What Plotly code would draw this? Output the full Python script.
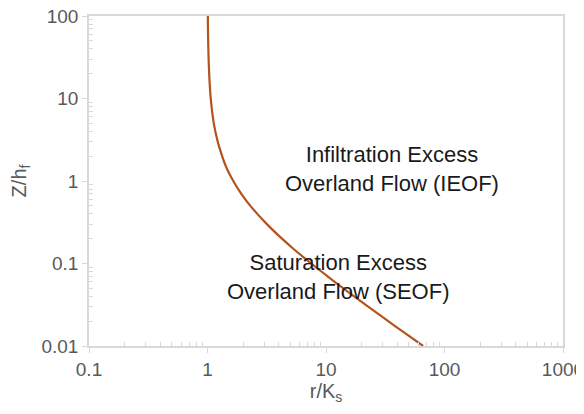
import plotly.graph_objects as go

# Data (r/Ks vs Z/hf)
z_hf = [100, 50, 20, 10, 5, 3, 2, 1.5, 1, 0.7, 0.5, 0.3, 0.2, 0.15, 0.1,
        0.07, 0.05, 0.03, 0.02, 0.015, 0.01]
r_ks = [1.007, 1.013, 1.033, 1.065, 1.13, 1.22, 1.33, 1.43, 1.65, 1.93, 2.3,
        3.17, 4.25, 5.33, 7.5, 10.3, 14.0, 22.7, 33.5, 44.3, 66.0]

x_ticks = [0.1, 1, 10, 100, 1000]
x_tick_labels = ["0.1", "1", "10", "100", "1000"]
y_ticks = [0.01, 0.1, 1, 10, 100]
y_tick_labels = ["0.01", "0.1", "1", "10", "100"]

region_labels = ["Infiltration Excess<br>Overland Flow (IEOF)",
                 "Saturation Excess<br>Overland Flow (SEOF)"]


def minor_vals(decades):
    return [m * d for d in decades[:-1] for m in range(2, 10)]


FONT = "Liberation Sans"
GRAY = "#595959"
AXIS = "#d9d9d9"

fig = go.Figure()
fig.add_trace(go.Scatter(x=r_ks, y=z_hf, mode="lines",
                         line=dict(color="#B4541C", width=2.2, shape="spline"),
                         showlegend=False, hoverinfo="skip"))

axis_common = dict(type="log", showgrid=False, zeroline=False, automargin=False,
                   showline=True, linecolor=AXIS, linewidth=1.5, mirror=True,
                   ticks="outside", ticklen=5, tickcolor=AXIS, tickwidth=1.2,
                   ticklabeloverflow="allow",
                   tickfont=dict(family=FONT, size=19, color=GRAY))

fig.update_xaxes(**axis_common, range=[-1, 3], tickvals=x_ticks, ticktext=x_tick_labels,
                 minor=dict(ticks="inside", ticklen=4, tickcolor=AXIS, tickwidth=1,
                            showgrid=False, tickvals=minor_vals(x_ticks)),
                 title=dict(text="r/K<sub>s</sub>", font=dict(family=FONT, size=20, color=GRAY),
                            standoff=0))
fig.update_yaxes(**axis_common, range=[-2, 2], tickvals=y_ticks, ticktext=y_tick_labels,
                 minor=dict(ticks="inside", ticklen=4, tickcolor=AXIS, tickwidth=1,
                            showgrid=False, tickvals=minor_vals(y_ticks)),
                 title=dict(text="Z/h<sub>f</sub>", font=dict(family=FONT, size=20, color=GRAY),
                            standoff=18))

fig.add_annotation(xref="paper", yref="paper", x=0.64, y=0.537, text=region_labels[0],
                   showarrow=False, font=dict(family=FONT, size=22, color="#1a1a1a"),
                   align="center")
fig.add_annotation(xref="paper", yref="paper", x=0.287, y=0.122, text=region_labels[1],
                   showarrow=False, font=dict(family=FONT, size=22, color="#1a1a1a"),
                   align="center")

# page body adds an 8px offset, so the figure is sized/margined to compensate
fig.update_layout(width=576, height=406,
                  margin=dict(l=81, r=21, t=8, b=68),
                  paper_bgcolor="white", plot_bgcolor="white",
                  font=dict(family=FONT))

fig.write_html("out.html")
